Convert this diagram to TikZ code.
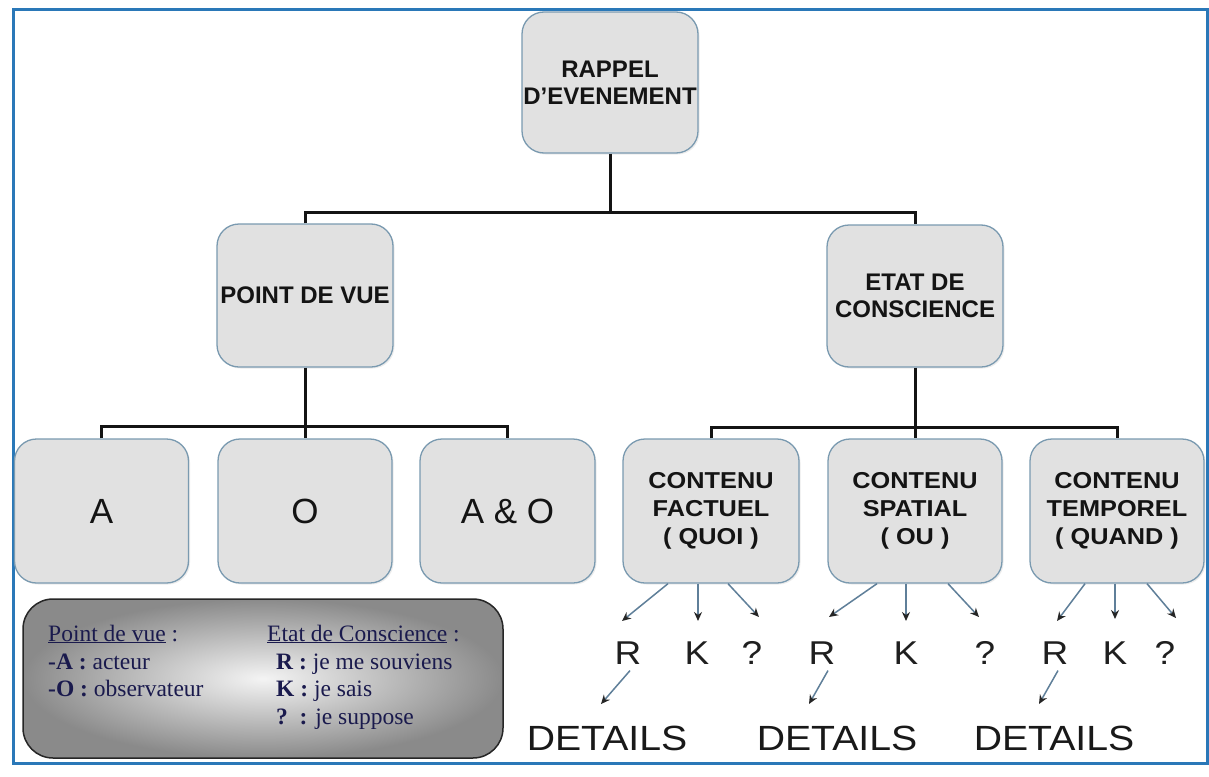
\documentclass[tikz,border=0pt]{standalone}
\usepackage{fontspec}
\setmainfont{Liberation Serif}
\setsansfont{Liberation Sans}
\newfontfamily\wsans[FakeStretch=1.12]{Liberation Sans}
\newfontfamily\wsansb[FakeStretch=1.1]{Liberation Sans Bold}
\usetikzlibrary{arrows.meta,shadows}
\definecolor{boxfill}{HTML}{E1E1E1}
\definecolor{boxedge}{HTML}{7A9AB0}
\definecolor{frameblue}{HTML}{2A78B8}
\definecolor{legout}{HTML}{8A8A8A}
\definecolor{legin}{HTML}{F4F4F4}
\definecolor{legtext}{HTML}{1A1A4D}
\definecolor{arrline}{HTML}{5F7F99}
\begin{document}
\begin{tikzpicture}[x=1pt,y=-1pt,
  box/.style={draw=boxedge, line width=1.3pt, fill=boxfill, rounded corners=22pt,
    inner sep=0pt, align=center, text=black!92,
    font=\sffamily\bfseries\fontsize{24}{27}\selectfont,
    drop shadow={opacity=0.15, shadow xshift=1.5pt, shadow yshift=-1.5pt}},
  cbox/.style={box, font=\wsansb\fontsize{23}{28}\selectfont},
  bigbox/.style={box, font=\sffamily\fontsize{35}{36}\selectfont},
  conn/.style={draw=black!92, line width=3pt},
  arr/.style={draw=arrline, line width=1.5pt, -{Stealth[length=9pt,width=8pt,color=black!85]}},
  letter/.style={inner sep=0pt, text=black!88, font=\wsans\fontsize{33}{33}\selectfont},
  det/.style={inner sep=0pt, text=black!90, font=\wsans\fontsize{35}{35}\selectfont},
  lg/.style={inner sep=0pt, text=legtext, font=\rmfamily\fontsize{23.5}{26}\selectfont},
  legbox/.style={draw=black!85, line width=1.5pt, rounded corners=30pt,
    inner color=legin, outer color=legout, minimum width=480pt, minimum height=159pt}
]
\useasboundingbox (0,0) rectangle (1209,776);
\fill[white] (0,0) rectangle (1209,776);
% frame
\draw[frameblue, line width=3pt] (13,10) rectangle (1207,763);

% boxes
\node[box, minimum width=176pt, minimum height=141pt] (top) at (610,82.5) {RAPPEL\\D'EVENEMENT};
\node[box, minimum width=176pt, minimum height=143pt] (pdv) at (305,295.5) {POINT DE VUE};
\node[box, minimum width=176pt, minimum height=142pt] (etat) at (915,296) {ETAT DE\\CONSCIENCE};
\node[bigbox, minimum width=174pt, minimum height=144pt] (A) at (101.5,511) {A};
\node[bigbox, minimum width=174pt, minimum height=144pt] (O) at (305,511) {O};
\node[bigbox, minimum width=175pt, minimum height=144pt] (AO) at (507.5,511) {A \& O};
\node[cbox, minimum width=176pt, minimum height=144pt] (CF) at (711,511) {CONTENU\\FACTUEL\\( QUOI )};
\node[cbox, minimum width=174pt, minimum height=144pt] (CS) at (915,511) {CONTENU\\SPATIAL\\( OU )};
\node[cbox, minimum width=174pt, minimum height=144pt] (CT) at (1117,511) {CONTENU\\TEMPOREL\\( QUAND )};

% tree connectors
\coordinate (j1) at (610,212);
\coordinate (j2) at (305,426);
\coordinate (j3) at (915,427);
\draw[conn] (top.south) -- (j1);
\draw[conn] (pdv.north) |- (j1) -| (etat.north);
\draw[conn] (pdv.south) -- (j2);
\draw[conn] (A.north) |- (j2) -| (AO.north);
\draw[conn] (j2) -- (O.north);
\draw[conn] (etat.south) -- (j3);
\draw[conn] (CF.north) |- (j3) -| (CT.north);
\draw[conn] (j3) -- (CS.north);

% letters
\node[letter] (R1) at (628,653) {R};
\node[letter] (K1) at (697,653) {K};
\node[letter] (Q1) at (752,653) {?};
\node[letter] (R2) at (822,653) {R};
\node[letter] (K2) at (906,653) {K};
\node[letter] (Q2) at (985,653) {?};
\node[letter] (R3) at (1055,653) {R};
\node[letter] (K3) at (1115,653) {K};
\node[letter] (Q3) at (1165,653) {?};

\node[det] (D1) at (607,738) {DETAILS};
\node[det] (D2) at (837,738) {DETAILS};
\node[det] (D3) at (1054,738) {DETAILS};

% arrow end points
\coordinate (eR1) at (622,621);
\coordinate (eK1) at (698,621);
\coordinate (eQ1) at (759,617);
\coordinate (eR2) at (829,617);
\coordinate (eK2) at (906,621);
\coordinate (eQ2) at (979,617);
\coordinate (eR3) at (1057,621);
\coordinate (eK3) at (1115,619);
\coordinate (eQ3) at (1176,618);
\coordinate (eD1) at (601,704);
\coordinate (eD2) at (809,704);
\coordinate (eD3) at (1039,704);

\draw[arr] ([xshift=-43pt]CF.south) -- (eR1);
\draw[arr] ([xshift=-13pt]CF.south) -- (eK1);
\draw[arr] ([xshift=17pt]CF.south) -- (eQ1);
\draw[arr] ([xshift=-38pt]CS.south) -- (eR2);
\draw[arr] ([xshift=-9pt]CS.south) -- (eK2);
\draw[arr] ([xshift=33pt]CS.south) -- (eQ2);
\draw[arr] ([xshift=-32pt]CT.south) -- (eR3);
\draw[arr] ([xshift=-2pt]CT.south) -- (eK3);
\draw[arr] ([xshift=30pt]CT.south) -- (eQ3);

\draw[arr] ([xshift=2pt,yshift=-6pt]R1.south) -- (eD1);
\draw[arr] ([xshift=6pt,yshift=-6pt]R2.south) -- (eD2);
\draw[arr] ([xshift=3pt,yshift=-6pt]R3.south) -- (eD3);

% legend
\node[legbox] (leg) at (263,678.5) {};
\node[lg, anchor=base west] (l1) at (48,641) {\underline{Point de vue} :};
\node[lg, anchor=base west] (l2) at (48,669) {\textbf{-A :} acteur};
\node[lg, anchor=base west] (l3) at (48,696) {\textbf{-O :} observateur};
\node[lg, anchor=base west] (r1) at (267,641) {\underline{Etat de Conscience} :};
\node[lg, anchor=base west] (r2) at (276,669) {\textbf{R :} je me souviens};
\node[lg, anchor=base west] (r3) at (276,696) {\textbf{K :} je sais};
\node[lg, anchor=base west] (r4) at (276,724) {\textbf{?}\ \ \textbf{:} je suppose};
\end{tikzpicture}
\end{document}
